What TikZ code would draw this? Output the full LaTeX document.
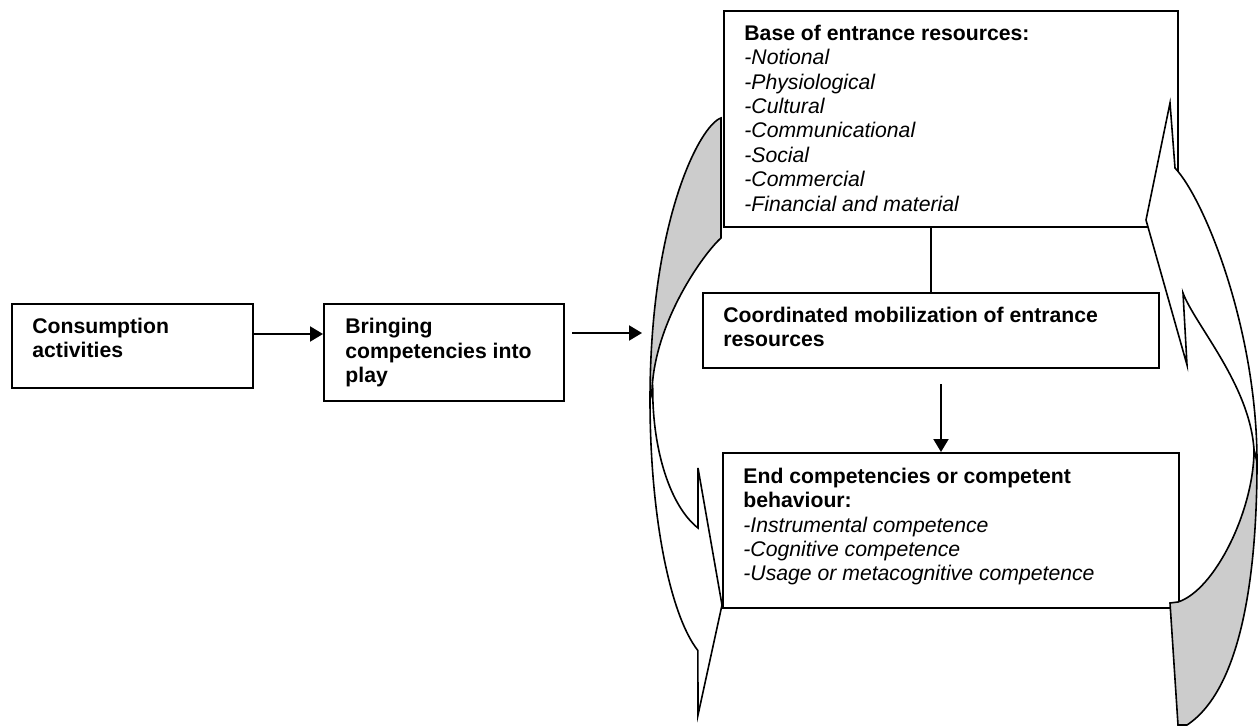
\documentclass[tikz,border=0pt]{standalone}
\usepackage{fontspec}
\setmainfont{Liberation Sans}
\usetikzlibrary{arrows.meta,calc,positioning}
\newcommand{\resitem}[1]{{\mdseries\itshape -#1}}
\definecolor{backgray}{RGB}{204,204,204}
\tikzset{
  wire/.style={black, line width=1pt},
  flow/.style={-{Triangle[length=6.5pt,width=7.5pt]}, line width=1pt},
  box/.style={draw=black, line width=1pt, fill=white, inner sep=0pt,
              anchor=north west},
  lab/.style={font=\fontsize{10.6}{12.2}\selectfont\bfseries,
              align=left, inner sep=0pt, anchor=north west},
  band/.style={draw=black, line width=0.8pt, fill=white},
  bandback/.style={band, fill=backgray},
}

\begin{document}
\begin{tikzpicture}[x=0.5pt,y=-0.5pt]
  \useasboundingbox (0,0) rectangle (1258,727);

  % Left chain.
  \node[box, minimum width=120.5pt, minimum height=42pt] (cons) at (11,303) {};
  \node[lab] (constxt) at ($(cons.north west)+(21,14.5)$)
    {Consumption\\activities};
  \node[box, minimum width=120pt, minimum height=48.5pt] (bring) at (323,303) {};
  \node[lab] (bringtxt) at ($(bring.north west)+(22,15)$)
    {Bringing\\competencies into\\play};
  \coordinate (into) at (642,333);
  \draw[flow] ([yshift=6pt]cons.east) -- ([yshift=6pt]cons.east -| bring.west);
  \draw[flow] ([xshift=3.5pt]bring.east |- into) -- (into);

  % Resource boxes.
  \node[box, minimum width=227pt, minimum height=108pt] (base) at (723,10) {};
  \node[lab] (basetxt) at ($(base.north west)+(21,14.5)$)
    {Base of entrance resources:\\
     \resitem{Notional}\\
     \resitem{Physiological}\\
     \resitem{Cultural}\\
     \resitem{Communicational}\\
     \resitem{Social}\\
     \resitem{Commercial}\\
     \resitem{Financial and material}};
  \node[box, minimum width=228pt, minimum height=37.5pt] (coord) at (702,292) {};
  \node[lab] (coordtxt) at ($(coord.north west)+(21,14.5)$)
    {Coordinated mobilization of entrance\\resources};
  \node[box, minimum width=228pt, minimum height=77.5pt] (endbox) at (722,452) {};
  \node[lab] (endtxt) at ($(endbox.north west)+(21,15.5)$)
    {End competencies or competent\\behaviour:\\
     \resitem{Instrumental competence}\\
     \resitem{Cognitive competence}\\
     \resitem{Usage or metacognitive competence}};
  \draw[wire] (coord.north) -- (coord.north |- base.south);
  \draw[flow] ([xshift=5pt,yshift=-7.5pt]coord.south)
    -- ([xshift=5pt]coord.south |- endbox.north);

  % Left curved arrow.
  \filldraw[bandback] (721,118) .. controls (700,125) and (650,220) .. (650,400)
    -- (652,390) .. controls (655,320) and (705,252) .. (721,238) -- cycle;
  \filldraw[band] (650,400) arc[start angle=180, end angle=109, x radius=71, y radius=265]
    -- (698,715) -- (722,605) -- (698,468) -- (698,528)
    arc[start angle=110.1, end angle=180, x radius=69, y radius=147] -- cycle;

  % Right curved arrow.
  \filldraw[band] (1175,168) -- (1170,103) -- (1146,220) -- (1187,365) -- (1183,293)
    .. controls (1195,325) and (1250,385) .. (1254,450) -- (1257,462)
    .. controls (1257,330) and (1205,200) .. (1175,168) -- cycle;
  \filldraw[bandback] (1257,462) .. controls (1257,580) and (1240,690) .. (1187,725)
    -- (1178,725) -- (1170,603) -- (1178,602)
    .. controls (1215,590) and (1254,510) .. (1254,450) -- cycle;
\end{tikzpicture}
\end{document}
